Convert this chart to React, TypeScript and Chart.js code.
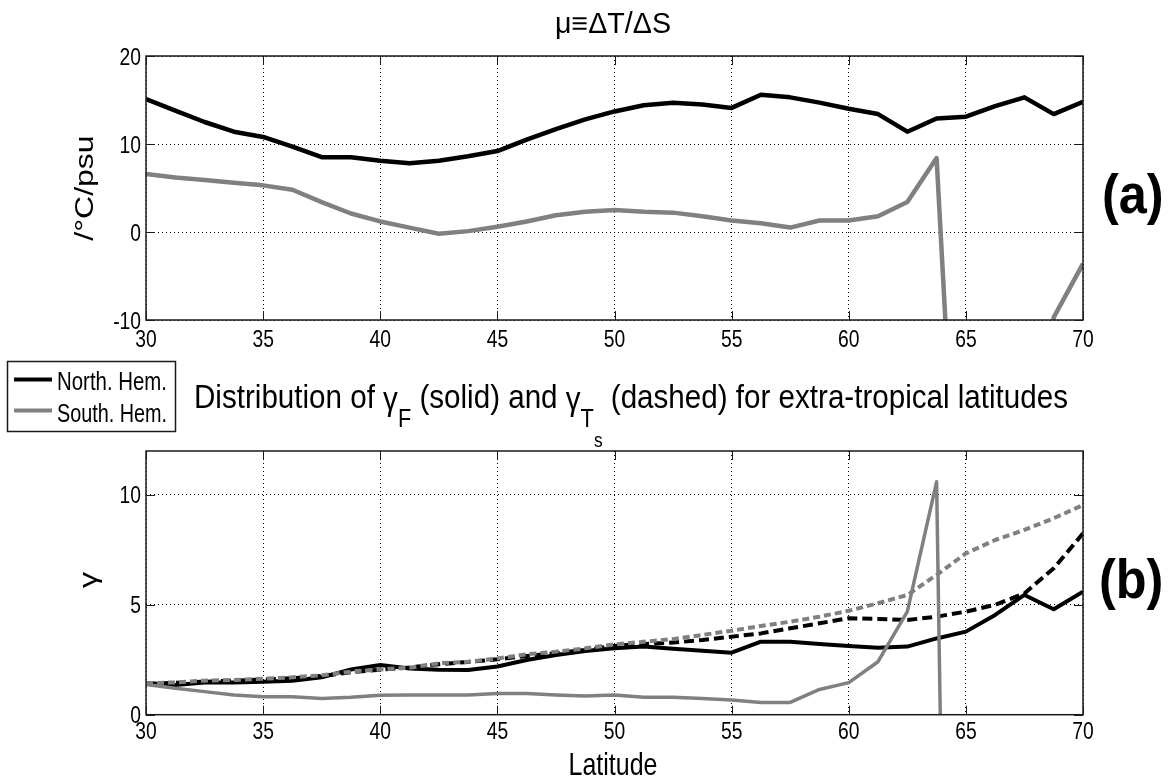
import React, { useEffect, useRef } from 'react';
import { Chart, registerables } from 'chart.js';

Chart.register(...registerables);

// ---------- data ----------
const LAT = [
  30, 31.25, 32.5, 33.75, 35, 36.25, 37.5, 38.75, 40, 41.25, 42.5,
  43.75, 45, 46.25, 47.5, 48.75, 50, 51.25, 52.5, 53.75, 55, 56.25,
  57.5, 58.75, 60, 61.25, 62.5, 63.75, 65, 66.25, 67.5, 68.75, 70,
];

// panel (a): mu = dT/dS  (°C/psu)
const MU_NORTH = [
  15.1, 13.8, 12.5, 11.4, 10.8, 9.7, 8.5, 8.5, 8.1, 7.8, 8.1,
  8.6, 9.2, 10.5, 11.7, 12.8, 13.7, 14.4, 14.7, 14.5, 14.1, 15.6,
  15.3, 14.7, 14.0, 13.4, 11.4, 12.9, 13.1, 14.3, 15.3, 13.4, 14.8,
];
const MU_SOUTH = [
  6.6, 6.2, 5.9, 5.6, 5.3, 4.8, 3.4, 2.1, 1.2, 0.5, -0.2,
  0.1, 0.6, 1.2, 1.9, 2.3, 2.5, 2.3, 2.2, 1.8, 1.3, 1.0,
  0.5, 1.3, 1.3, 1.8, 3.4, 8.4, -53, null, -40, -9.7, -3.6,
];

// panel (b): gamma_F (solid) and gamma_Ts (dashed)
const GF_NORTH = [
  1.43, 1.35, 1.46, 1.46, 1.5, 1.55, 1.7, 2.06, 2.26, 2.1, 2.05,
  2.03, 2.19, 2.49, 2.72, 2.9, 3.02, 3.1, 3.0, 2.91, 2.82, 3.32,
  3.32, 3.22, 3.13, 3.05, 3.1, 3.47, 3.78, 4.54, 5.45, 4.8, 5.6,
];
const GT_NORTH = [
  1.4, 1.45, 1.5, 1.55, 1.6, 1.66, 1.76, 1.93, 2.05, 2.15, 2.3,
  2.4, 2.52, 2.67, 2.8, 2.95, 3.13, 3.22, 3.28, 3.4, 3.55, 3.7,
  3.93, 4.16, 4.39, 4.36, 4.31, 4.46, 4.69, 5.0, 5.52, 6.66, 8.25,
];
const GF_SOUTH = [
  1.38, 1.2, 1.05, 0.9, 0.82, 0.82, 0.74, 0.79, 0.88, 0.9, 0.9,
  0.9, 0.97, 0.97, 0.9, 0.85, 0.9, 0.79, 0.79, 0.74, 0.67, 0.56,
  0.56, 1.15, 1.46, 2.41, 4.69, 10.6, -74, null, null, null, null,
];
const GT_SOUTH = [
  1.43, 1.47, 1.55, 1.58, 1.64, 1.7, 1.79, 1.96, 2.06, 2.14, 2.34,
  2.41, 2.56, 2.75, 2.87, 3.02, 3.2, 3.32, 3.44, 3.63, 3.82, 4.04,
  4.23, 4.46, 4.73, 5.07, 5.45, 6.36, 7.34, 7.95, 8.41, 8.94, 9.54,
];

const LEGEND_LABELS = ['North. Hem.', 'South. Hem.'];
const TITLE_A = 'μ≡ΔT/ΔS';
const YLABEL_A = '/°C/psu';
const YLABEL_B = 'γ';
const XLABEL_B = 'Latitude';

// ---------- styles ----------
const BLACK = '#000000';
const GRAY = '#808080';
const FONT = "'Liberation Sans', Arial, Helvetica, sans-serif";
const SX = 0.8;

const pts = (ys: (number | null)[]) => LAT.map((x, i) => ({ x, y: ys[i] }));

function drawText(
  ctx: CanvasRenderingContext2D,
  s: string,
  x: number,
  y: number,
  size: number,
  o: { align?: CanvasTextAlign; bold?: boolean; sx?: number; rotate?: boolean; baseline?: CanvasTextBaseline; width?: number } = {}
) {
  ctx.save();
  ctx.font = `${o.bold ? 'bold ' : ''}${size}px ${FONT}`;
  ctx.fillStyle = '#000';
  ctx.textAlign = o.align || 'left';
  ctx.textBaseline = o.baseline || 'alphabetic';
  let sx = o.sx ?? SX;
  if (o.width) sx = o.width / ctx.measureText(s).width;
  ctx.translate(x, y);
  if (o.rotate) {
    ctx.rotate(-Math.PI / 2);
    ctx.scale(1, sx);
  } else {
    ctx.scale(sx, 1);
  }
  ctx.fillText(s, 0, 0);
  ctx.restore();
}

function drawFrame(chart: any, xLabelDy: number) {
  const ctx: CanvasRenderingContext2D = chart.ctx;
  const { left, right, top, bottom } = chart.chartArea;
  const xs = chart.scales.x;
  const ys = chart.scales.y;
  ctx.save();
  ctx.strokeStyle = '#1a1a1a';
  ctx.lineWidth = 1.5;
  ctx.strokeRect(left, top, right - left, bottom - top);
  ctx.lineWidth = 1;
  ctx.beginPath();
  const tl = 9;
  xs.ticks.forEach((t: any) => {
    const px = Math.round(xs.getPixelForValue(t.value)) + 0.5;
    ctx.moveTo(px, bottom); ctx.lineTo(px, bottom - tl);
    ctx.moveTo(px, top); ctx.lineTo(px, top + tl);
  });
  ys.ticks.forEach((t: any) => {
    const py = Math.round(ys.getPixelForValue(t.value)) + 0.5;
    ctx.moveTo(left, py); ctx.lineTo(left + tl, py);
    ctx.moveTo(right, py); ctx.lineTo(right - tl, py);
  });
  ctx.stroke();
  ctx.restore();
  xs.ticks.forEach((t: any) => {
    drawText(ctx, String(t.value), xs.getPixelForValue(t.value), bottom + xLabelDy, 23.5, { align: 'center', sx: 0.82 });
  });
  ys.ticks.forEach((t: any) => {
    drawText(ctx, String(t.value), left - 5, ys.getPixelForValue(t.value) + 8.5, 23.5, { align: 'right', sx: 0.82 });
  });
}

const panelA = {
  id: 'panelA',
  afterDraw(chart: any) {
    const ctx = chart.ctx;
    drawFrame(chart, 27);
    drawText(ctx, TITLE_A, 555, 33, 29, { width: 116 });
    drawText(ctx, YLABEL_A, 86, 188, 32, { rotate: true, align: 'center', baseline: 'middle', sx: 0.8 });
    drawText(ctx, '(a)', 1102, 213, 56, { bold: true, sx: 0.9 });
  },
};

const OFF = 350;
const panelB = {
  id: 'panelB',
  afterDraw(chart: any) {
    const ctx: CanvasRenderingContext2D = chart.ctx;
    drawFrame(chart, 24.5);
    const segs = [
      { t: 'Distribution of ', s: 34, dy: 0 },
      { t: 'γ', s: 34, dy: 2 },
      { t: 'F', s: 25, dy: 19 },
      { t: ' (solid) and ', s: 34, dy: 0 },
      { t: 'γ', s: 34, dy: 2 },
      { t: 'T', s: 25, dy: 19 },
      { t: 's', s: 20, dy: 39 },
      { t: ' (dashed) for extra-tropical latitudes', s: 34, dy: 0 },
    ];
    let total = 0;
    const widths = segs.map((g) => {
      ctx.font = `${g.s}px ${FONT}`;
      const w = ctx.measureText(g.t).width;
      total += w;
      return w;
    });
    const sx = 874 / total;
    let x = 194;
    segs.forEach((g, i) => {
      drawText(ctx, g.t, x, 408 - OFF + g.dy, g.s, { sx });
      x += widths[i] * sx;
    });
    drawText(ctx, YLABEL_B, 90, 580 - OFF, 32, { rotate: true, align: 'center', baseline: 'middle', sx: 0.8 });
    drawText(ctx, XLABEL_B, 613, 775 - OFF, 32, { align: 'center', sx: 0.78 });
    drawText(ctx, '(b)', 1099, 598 - OFF, 56, { bold: true, sx: 0.9 });
    ctx.save();
    ctx.fillStyle = '#fff';
    ctx.fillRect(7, 361 - OFF, 169, 71);
    ctx.strokeStyle = '#1a1a1a';
    ctx.lineWidth = 1.5;
    ctx.strokeRect(7.5, 361.5 - OFF, 168, 70);
    const cols = [BLACK, GRAY];
    const ly = [379.5, 410.5];
    const ty = [390, 421.5];
    LEGEND_LABELS.forEach((lab, i) => {
      ctx.strokeStyle = cols[i];
      ctx.lineWidth = 4;
      ctx.beginPath();
      ctx.moveTo(14, ly[i] - OFF);
      ctx.lineTo(52, ly[i] - OFF);
      ctx.stroke();
      drawText(ctx, lab, 57, ty[i] - OFF, 25, { width: 110 });
    });
    ctx.restore();
  },
};

const gridOpts = { color: '#000', lineWidth: 1, drawTicks: false };
const borderOpts = { display: false, dash: [1, 3] };

function line(label: string, ys: (number | null)[], color: string, dash: number[] = [], width = 4) {
  return {
    label,
    data: pts(ys),
    borderColor: color,
    backgroundColor: color,
    borderWidth: width,
    borderDash: dash,
    borderJoinStyle: 'round' as const,
    pointRadius: 0,
    tension: 0,
    fill: false,
  };
}

export default function App() {
  const refA = useRef<HTMLCanvasElement>(null);
  const refB = useRef<HTMLCanvasElement>(null);

  useEffect(() => {
    const common = {
      responsive: false,
      animation: false as const,
      devicePixelRatio: 1,
      events: [] as any[],
      plugins: { legend: { display: false }, tooltip: { enabled: false }, title: { display: false } },
    };
    const chartA = new Chart(refA.current!, {
      type: 'line',
      data: {
        datasets: [
          line(LEGEND_LABELS[0], MU_NORTH, BLACK, [], 4.5),
          line(LEGEND_LABELS[1], MU_SOUTH, GRAY, [], 4.5),
        ],
      },
      options: {
        ...common,
        layout: { padding: { left: 146, right: 87, top: 56, bottom: 30 } },
        scales: {
          x: { type: 'linear', min: 30, max: 70, ticks: { display: false, stepSize: 5 }, grid: gridOpts, border: borderOpts },
          y: { type: 'linear', min: -10, max: 20, ticks: { display: false, stepSize: 10 }, grid: gridOpts, border: borderOpts },
        },
      } as any,
      plugins: [panelA],
    });
    const chartB = new Chart(refB.current!, {
      type: 'line',
      data: {
        datasets: [
          line(LEGEND_LABELS[1] + ' γF', GF_SOUTH, GRAY, [], 3.5),
          line(LEGEND_LABELS[1] + ' γTs', GT_SOUTH, GRAY, [7, 4], 4),
          line(LEGEND_LABELS[0] + ' γTs', GT_NORTH, BLACK, [10, 5], 4),
          line(LEGEND_LABELS[0] + ' γF', GF_NORTH, BLACK, [], 4),
        ],
      },
      options: {
        ...common,
        layout: { padding: { left: 146, right: 87, top: 101, bottom: 67.3 } },
        scales: {
          x: { type: 'linear', min: 30, max: 70, ticks: { display: false, stepSize: 5 }, grid: gridOpts, border: borderOpts },
          y: { type: 'linear', min: 0, max: 12, ticks: { display: false, stepSize: 5, includeBounds: false }, grid: gridOpts, border: borderOpts },
        },
      } as any,
      plugins: [panelB],
    });
    return () => {
      chartA.destroy();
      chartB.destroy();
    };
  }, []);

  return (
    <div style={{ position: 'fixed', left: 0, top: 0, width: 1170, height: 782, background: '#fff', overflow: 'hidden' }}>
      <canvas ref={refA} width={1170} height={350} style={{ position: 'absolute', left: 0, top: 0, width: 1170, height: 350 }} />
      <canvas ref={refB} width={1170} height={432} style={{ position: 'absolute', left: 0, top: 350, width: 1170, height: 432 }} />
    </div>
  );
}
